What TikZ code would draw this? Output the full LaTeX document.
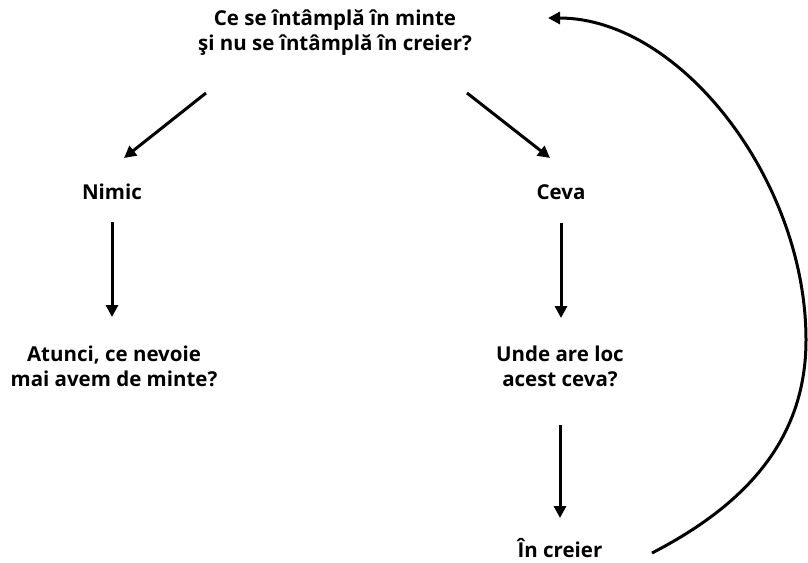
\documentclass[tikz,border=0pt]{standalone}
\usepackage{fontspec}
\setmainfont{Open Sans}
\usetikzlibrary{arrows.meta}
\begin{document}
\begin{tikzpicture}[x=1pt,y=-1pt,
  lbl/.style={font=\bfseries\fontsize{20.5}{25}\selectfont, align=center, inner sep=0pt},
  arr/.style={line width=3pt, -{Triangle[length=12pt,width=12pt]}}]
\useasboundingbox (0,0) rectangle (808,562);
\node[lbl] (q) at (335,33) {Ce se întâmplă în minte\\şi nu se întâmplă în creier?};
\node[lbl] (nimic) at (112,192) {Nimic};
\node[lbl] (ceva) at (561,192) {Ceva};
\node[lbl] (atunci) at (114,366) {Atunci, ce nevoie\\mai avem de minte?};
\node[lbl] (unde) at (560,366) {Unde are loc\\acest ceva?};
\node[lbl] (cr) at (560,548) {În creier};
\coordinate (qL) at (206,93);
\coordinate (qR) at (467,93);
\coordinate (nT) at (124,158);
\coordinate (cT) at (550,158);
\coordinate (cs) at (652,553);
\coordinate (cm) at (806,340);
\coordinate (ce) at (548,18);
\draw[arr] (qL) -- (nT);
\draw[arr] (qR) -- (cT);
\draw[arr] (nimic.south |- 0,222) -- (nimic.south |- 0,317);
\draw[arr] (ceva.south |- 0,223) -- (ceva.south |- 0,318);
\draw[arr] (cr.north |- 0,425) -- (cr.north |- 0,518);
\draw[arr] (cs) .. controls (745,505) and (806,440) .. (cm)
  .. controls (806,180) and (680,18) .. (ce);
\end{tikzpicture}
\end{document}
